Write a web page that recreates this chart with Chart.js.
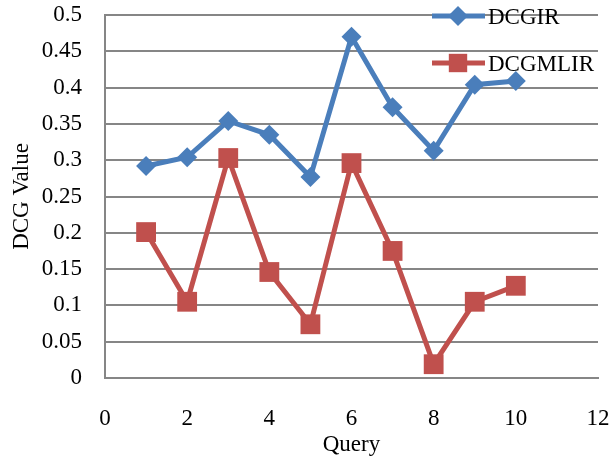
<!DOCTYPE html>
<html>
<head>
<meta charset="utf-8">
<script src="https://cdn.jsdelivr.net/npm/chart.js@4"></script>
<style>
  html, body { margin: 0; padding: 0; background: #fff; }
  #wrap { width: 612px; height: 459px; }
</style>
</head>
<body>
<div id="wrap"><canvas id="grafico" width="612" height="459"></canvas></div>
<script>
const queries = [1, 2, 3, 4, 5, 6, 7, 8, 9, 10];
const dcgir = [0.292, 0.304, 0.354, 0.335, 0.277, 0.470, 0.373, 0.313, 0.404, 0.409];
const dcgmlir = [0.201, 0.105, 0.303, 0.146, 0.074, 0.296, 0.175, 0.019, 0.105, 0.127];

const AZUL = '#4A7EBB';
const VERMELHO = '#C0504D';
const FONTE = '"Liberation Serif", "Times New Roman", serif';
const TAM = 23;

// legenda desenhada a mao, no canto superior direito
const legendaManual = {
    id: 'legendaManual',
    afterDraw(chart) {
        const c = chart.ctx;
        const itens = [
            { nome: 'DCGIR', cor: AZUL, estilo: 'rectRot', raio: 10, y: 16 },
            { nome: 'DCGMLIR', cor: VERMELHO, estilo: 'rect', raio: 13, y: 63 }
        ];
        c.save();
        itens.forEach(item => {
            c.strokeStyle = item.cor;
            c.lineWidth = 5;
            c.beginPath();
            c.moveTo(432, item.y);
            c.lineTo(485, item.y);
            c.stroke();
            c.fillStyle = item.cor;
            Chart.helpers.drawPoint(c, { pointStyle: item.estilo, radius: item.raio, borderWidth: 0 }, 458, item.y);
            c.fillStyle = '#000';
            c.font = TAM + 'px ' + FONTE;
            c.textBaseline = 'middle';
            c.textAlign = 'left';
            c.fillText(item.nome, 488, item.y + 2);
        });
        c.restore();
    }
};

const grafico = new Chart(document.getElementById('grafico'), {
    type: 'line',
    data: {
        datasets: [{
            label: 'DCGIR',
            data: queries.map((q, i) => ({ x: q, y: dcgir[i] })),
            borderColor: AZUL,
            backgroundColor: AZUL,
            borderWidth: 5,
            pointStyle: 'rectRot',
            pointRadius: 10,
            pointBorderWidth: 0,
            tension: 0
        }, {
            label: 'DCGMLIR',
            data: queries.map((q, i) => ({ x: q, y: dcgmlir[i] })),
            borderColor: VERMELHO,
            backgroundColor: VERMELHO,
            borderWidth: 5,
            pointStyle: 'rect',
            pointRadius: 14,
            pointBorderWidth: 0,
            tension: 0
        }]
    },
    options: {
        responsive: false,
        animation: false,
        layout: { padding: { left: 0, right: 14, top: 15, bottom: 0 } },
        plugins: {
            legend: { display: false },
            tooltip: { enabled: false }
        },
        scales: {
            x: {
                type: 'linear',
                min: 0,
                max: 12,
                ticks: { stepSize: 2, padding: 27, color: '#000', font: { family: FONTE, size: TAM } },
                grid: { display: false, drawTicks: false },
                border: { display: true, color: '#868686', width: 2 },
                title: { display: true, text: 'Query', color: '#000', font: { family: FONTE, size: TAM }, padding: { top: 0, bottom: 0 } },
                afterFit(scale) {
                    scale.height = 81;
                    scale.paddingLeft = 0;
                    scale.paddingRight = 0;
                }
            },
            y: {
                min: 0,
                max: 0.5,
                ticks: {
                    stepSize: 0.05,
                    padding: 23,
                    color: '#000',
                    font: { family: FONTE, size: TAM },
                    callback: v => String(Math.round(v * 100) / 100)
                },
                grid: { color: '#868686', lineWidth: 2, drawTicks: false },
                border: { display: true, color: '#868686', width: 2 },
                title: { display: true, text: 'DCG Value', color: '#000', font: { family: FONTE, size: TAM }, padding: { top: 8, bottom: 0 } },
                afterFit(scale) {
                    scale.width = 105;
                    scale.paddingTop = 0;
                    scale.paddingBottom = 0;
                }
            }
        }
    },
    plugins: [legendaManual]
});
</script>
</body>
</html>
